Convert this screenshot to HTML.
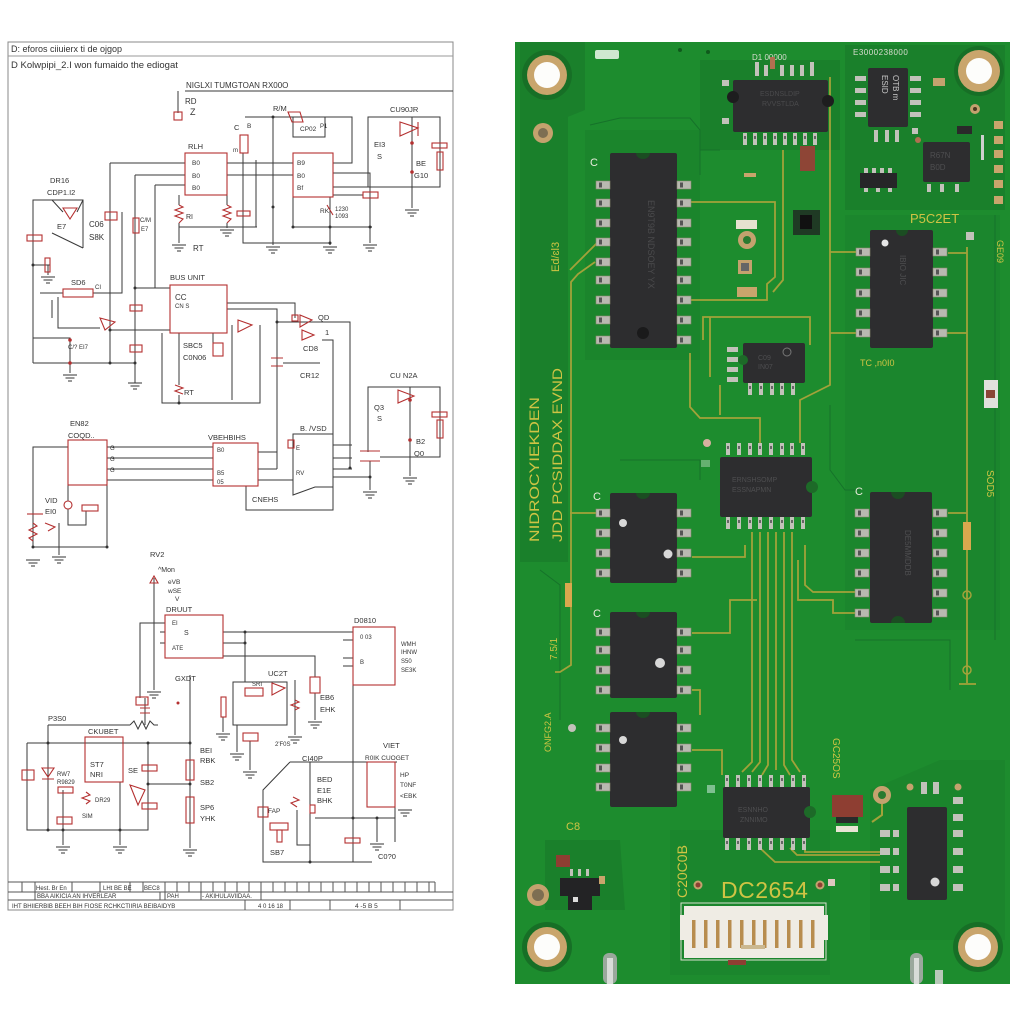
<!DOCTYPE html>
<html><head><meta charset="utf-8">
<style>
html,body{margin:0;padding:0;background:#fff;width:1024px;height:1024px;overflow:hidden}
svg{display:block}
</style></head>
<body>
<svg width="1024" height="1024" viewBox="0 0 1024 1024" xmlns="http://www.w3.org/2000/svg" font-family="Liberation Sans, sans-serif">
<defs>
<g id="gnd" stroke="#333" stroke-width="1"><line x1="-7" y1="0" x2="7" y2="0"/><line x1="-4.5" y1="3" x2="4.5" y2="3"/><line x1="-2" y1="6" x2="2" y2="6"/></g>
<g id="padL"><rect x="0" y="-4" width="14" height="8" fill="#b9b9b1" stroke="#8a8a70" stroke-width="0.6"/><rect x="3" y="-2.5" width="3" height="5" fill="#555"/></g>
<g id="pinV"><rect x="-2" y="0" width="4" height="12" fill="#c2c2ba"/><rect x="-1" y="3" width="2" height="3" fill="#666"/></g>
</defs>

<rect x="0" y="0" width="1024" height="1024" fill="#fff"/>

<!-- ================= SCHEMATIC ================= -->
<g fill="none" stroke="#3a3a3a" stroke-width="1">
<rect x="8" y="42" width="445" height="868" stroke="#888"/>
<line x1="8" y1="56" x2="453" y2="56" stroke="#999"/>
<line x1="185" y1="91" x2="453" y2="91"/>
<path d="M178 91 V113"/>
<path d="M110 163 H185 M135 175 H185 M155 185 H185"/>
<path d="M110 163 V363 M135 175 V383 M155 185 V288"/>
<path d="M179 195 V205 M179 223 V243 M179 227 H257 M256 160 V227"/>
<path d="M227 195 V205 M227 223 V228"/>
<path d="M243 153 V243 H330 M273 117 V245"/>
<path d="M245 117 H352 V163 H333 M293 117 V137 H325 V117"/>
<path d="M227 163 H293 M227 175 H293 M293 163 V227 H372 M330 197 V245 M333 173 H370 V243 M333 187 H368 M333 195 H363"/>
<path d="M368 187 V117 H440 V187 Z M412 117 V208"/>
<path d="M33 363 V200 H83 V248 M52 200 L63 212 M83 200 L77 212 M52 233 L83 248 M33 265 H50 M48 265 V275"/>
<path d="M93 293 H122 V212 M40 293 H63 M52 300 V318 M58 297 V328 H100"/>
<path d="M33 338 H70 V373 M33 363 H135"/>
<path d="M135 288 H170 M110 330 H170 M227 303 H295 V318 M227 309 H277 V469 M277 322 H350 V468 M322 340 H333 V440"/>
<path d="M162 333 V403 H260 V325 M179 333 V385 M179 395 V403 M213 333 V345 M232 325 V400 M283 363 H320"/>
<path d="M368 452 V387 H440 V457 H380 M410 387 V476 M333 477 H370 M370 461 V490"/>
<path d="M107 447 H213 M107 458 H213 M107 469 H213 M107 480 H213"/>
<path d="M258 452 H277 M258 469 H277 M258 480 H293 M293 434 V495 L315 487 H333 V434 Z M333 434 V510 H246 V486"/>
<path d="M333 445 H352 M333 458 H352 M333 469 H352"/>
<path d="M68 447 H33 V547 H107 V485 M68 485 V501 M68 509 V525 H86 V511 M59 523 V555"/>
<path d="M154 578 V690 M165 623 H140 V698 M160 632 H165 M160 643 H165"/>
<path d="M223 632 H353 M223 643 H245 M245 632 V682 M223 656 H315 V677 M315 693 V720 M190 675 V848 M353 685 V862"/>
<path d="M233 682 H287 V725 H233 Z M223 717 V732 M237 725 V752 M250 741 V770 M295 680 V735"/>
<path d="M343 640 H353 M343 658 H353 M343 666 H353"/>
<path d="M48 725 H130 M130 725 L134 721 L138 729 L142 721 L146 729 L150 721 L154 725 H158"/>
<path d="M27 743 H190 M27 743 V830 H148 V743 M48 725 V830 M120 782 V845 M63 790 V845 M148 784 H190 M145 698 V725"/>
<path d="M290 762 H397 M290 762 L263 790 V862 H372 M310 762 V862 M315 818 H395 M377 818 V842 M395 807 V842 M297 810 V845 H310"/>
<path d="M8 882 H435 M8 892 H453 M8 900 H453" stroke="#555"/>
<path d="M22 882 V892 M35 882 V900 M72 882 V892 M100 882 V892 M130 882 V892 M143 882 V892 M165 882 V900 M177 882 V892 M189 882 V892 M201 882 V900 M213 882 V892 M225 882 V892 M237 882 V892 M249 882 V892 M261 882 V900 M273 882 V892 M285 882 V892 M297 882 V892 M309 882 V892 M321 882 V892 M333 882 V892 M345 882 V892 M357 882 V892 M369 882 V892 M381 882 V892 M393 882 V892 M405 882 V892 M417 882 V892 M429 882 V892 M435 882 V892 M160 892 V900 M245 900 V910 M290 900 V910 M330 900 V910 M400 900 V910" stroke="#555"/>
</g>

<g>
<use href="#gnd" x="179" y="245"/><use href="#gnd" x="227" y="230"/><use href="#gnd" x="273" y="247"/><use href="#gnd" x="330" y="247"/><use href="#gnd" x="370" y="245"/><use href="#gnd" x="412" y="210"/>
<use href="#gnd" x="48" y="277"/><use href="#gnd" x="70" y="375"/><use href="#gnd" x="135" y="383"/>
<use href="#gnd" x="410" y="478"/><use href="#gnd" x="370" y="492"/>
<use href="#gnd" x="33" y="560"/><use href="#gnd" x="59" y="557"/>
<use href="#gnd" x="154" y="692"/><use href="#gnd" x="315" y="722"/><use href="#gnd" x="190" y="850"/>
<use href="#gnd" x="223" y="734"/><use href="#gnd" x="237" y="754"/><use href="#gnd" x="250" y="772"/><use href="#gnd" x="295" y="737"/>
<use href="#gnd" x="63" y="847"/><use href="#gnd" x="120" y="847"/><use href="#gnd" x="377" y="844"/><use href="#gnd" x="405" y="810"/>
</g>

<g fill="none" stroke="#b43030" stroke-width="1.1">
<rect x="174" y="112" width="8" height="8"/>
<rect x="185" y="153" width="42" height="42"/>
<path d="M179 205 L183 207 L175 210 L183 213 L175 216 L183 219 L179 223"/>
<path d="M227 205 L231 207 L223 210 L231 213 L223 216 L231 219 L227 223"/>
<rect x="237" y="211" width="13" height="5"/>
<rect x="240" y="135" width="8" height="18"/>
<path d="M288 112 L300 112 L303 122 L292 122 Z"/>
<rect x="293" y="153" width="40" height="44"/>
<path d="M327 205 L333 215"/>
<rect x="363" y="192" width="15" height="6"/>
<path d="M400 122 L418 128 L400 136 Z M418 122 V136"/>
<rect x="432" y="143" width="15" height="5"/>
<rect x="437" y="152" width="6" height="18"/>
<path d="M63 208 L77 208 L70 219 Z"/>
<rect x="27" y="235" width="15" height="6"/>
<rect x="45" y="258" width="5" height="14"/>
<rect x="105" y="212" width="12" height="8"/>
<rect x="133" y="218" width="6" height="15"/>
<rect x="63" y="289" width="30" height="8"/>
<path d="M100 318 L115 322 L105 330 Z"/>
<rect x="130" y="305" width="12" height="6"/>
<rect x="130" y="345" width="12" height="7"/>
<rect x="170" y="285" width="57" height="48"/>
<path d="M271 358 H283 M271 366 H283"/>
<path d="M300 315 L312 320 L300 327 Z M302 330 L314 335 L302 340 Z"/>
<rect x="292" y="315" width="6" height="6"/>
<rect x="213" y="343" width="10" height="13"/>
<path d="M238 320 L252 325 L238 332 Z"/>
<path d="M175 385 L183 388 L175 391 L183 394"/>
<path d="M398 390 L414 396 L398 403 Z"/>
<rect x="432" y="412" width="15" height="5"/>
<rect x="437" y="420" width="6" height="18"/>
<path d="M360 451 H380 M360 461 H380"/>
<rect x="68" y="440" width="39" height="45"/>
<rect x="213" y="443" width="45" height="43"/>
<rect x="288" y="440" width="6" height="8"/>
<path d="M27 514 H43"/>
<path d="M33 523 L37 526 L29 530 L37 534 L29 538 L33 541"/>
<circle cx="68" cy="505" r="4"/>
<rect x="82" y="505" width="16" height="6"/>
<path d="M45 523 L55 527 L48 531"/>
<path d="M150 583 L154 576 L158 583 Z"/>
<rect x="165" y="615" width="58" height="43"/>
<rect x="136" y="697" width="12" height="8"/>
<path d="M140 708 H150 M140 713 H150"/>
<rect x="186" y="760" width="8" height="20"/>
<rect x="186" y="797" width="8" height="26"/>
<rect x="310" y="677" width="10" height="16"/>
<rect x="245" y="688" width="18" height="8"/>
<path d="M272 683 L285 688 L272 695 Z"/>
<rect x="221" y="697" width="5" height="20"/>
<rect x="243" y="733" width="15" height="8"/>
<path d="M295 700 L299 702 L291 705 L299 708 L295 710"/>
<rect x="353" y="627" width="42" height="58"/>
<rect x="85" y="737" width="38" height="45"/>
<rect x="22" y="770" width="12" height="10"/>
<path d="M42 768 L54 768 L48 777 Z M42 779 H54"/>
<rect x="58" y="787" width="15" height="6"/>
<rect x="57" y="817" width="15" height="7"/>
<path d="M86 792 L90 795 L82 798 L90 801 L86 804"/>
<rect x="142" y="765" width="15" height="6"/>
<rect x="142" y="803" width="15" height="6"/>
<path d="M130 785 L145 790 L138 805 Z"/>
<rect x="367" y="762" width="28" height="45"/>
<rect x="258" y="807" width="10" height="10"/>
<rect x="270" y="823" width="18" height="7"/>
<rect x="277" y="830" width="5" height="12"/>
<path d="M293 797 L299 800 L291 803 L297 807"/>
<rect x="310" y="805" width="5" height="8"/>
<rect x="345" y="838" width="15" height="5"/>
</g>
<g fill="#b43030">
<circle cx="412" cy="143" r="1.8"/><circle cx="412" cy="172" r="1.8"/><circle cx="410" cy="400" r="1.8"/><circle cx="410" cy="440" r="1.8"/>
<circle cx="70" cy="340" r="1.8"/><circle cx="70" cy="363" r="1.8"/><circle cx="178" cy="703" r="1.5"/>
</g>
<g fill="#333">
<circle cx="273" cy="117" r="1.5"/><circle cx="293" cy="227" r="1.5"/><circle cx="330" cy="227" r="1.5"/><circle cx="370" cy="227" r="1.5"/><circle cx="273" cy="207" r="1.5"/><circle cx="330" cy="243" r="1.5"/><circle cx="33" cy="265" r="1.5"/><circle cx="110" cy="363" r="1.5"/><circle cx="135" cy="363" r="1.5"/><circle cx="110" cy="330" r="1.5"/><circle cx="135" cy="288" r="1.5"/><circle cx="277" cy="322" r="1.5"/><circle cx="179" cy="403" r="1.5"/><circle cx="370" cy="477" r="1.5"/><circle cx="350" cy="468" r="1.5"/><circle cx="107" cy="547" r="1.5"/><circle cx="33" cy="547" r="1.5"/><circle cx="245" cy="632" r="1.5"/><circle cx="245" cy="643" r="1.5"/><circle cx="48" cy="743" r="1.5"/><circle cx="148" cy="743" r="1.5"/><circle cx="190" cy="743" r="1.5"/><circle cx="148" cy="784" r="1.5"/><circle cx="190" cy="784" r="1.5"/><circle cx="48" cy="830" r="1.5"/><circle cx="120" cy="830" r="1.5"/><circle cx="310" cy="862" r="1.5"/><circle cx="353" cy="818" r="1.5"/><circle cx="377" cy="818" r="1.5"/><circle cx="63" cy="830" r="1.5"/>
</g>

<g fill="#333" font-size="7.5">
<text x="11" y="52" font-size="9">D: eforos ciiuierx ti de ojgop</text>
<text x="11" y="68" font-size="9.5">D Kolwpipi_2.I won fumaido the ediogat</text>
<text x="186" y="88" font-size="8">NIGLXI TUMGTOAN RX00O</text>
<text x="185" y="104" font-size="8">RD</text><text x="190" y="115" font-size="9">Z</text>
<text x="188" y="149">RLH</text>
<text x="192" y="165" font-size="6.5">B0</text><text x="192" y="178" font-size="6.5">B0</text><text x="192" y="190" font-size="6.5">B0</text>
<text x="186" y="219" font-size="7">RI</text><text x="193" y="251" font-size="8">RT</text>
<text x="234" y="130">C</text><text x="247" y="128" font-size="6.5">B</text><text x="233" y="152" font-size="6">m</text>
<text x="273" y="111">R/M</text><text x="300" y="131" font-size="6.5">CP02</text><text x="320" y="128" font-size="6">P1</text>
<text x="297" y="165" font-size="6.5">B9</text><text x="297" y="178" font-size="6.5">B0</text><text x="297" y="190" font-size="6.5">Bf</text>
<text x="320" y="213" font-size="6.5">RK</text><text x="335" y="211" font-size="6">1230</text><text x="335" y="218" font-size="6">1093</text>
<text x="390" y="112">CU90JR</text><text x="374" y="147">EI3</text><text x="377" y="159">S</text><text x="416" y="166">BE</text><text x="414" y="178">G10</text>
<text x="50" y="183">DR16</text><text x="47" y="195">CDP1.I2</text><text x="57" y="229">E7</text>
<text x="89" y="227" font-size="8">C06</text><text x="89" y="240" font-size="8">S8K</text>
<text x="140" y="222" font-size="6">C/M</text><text x="141" y="231" font-size="6">E7</text>
<text x="71" y="285">SD6</text><text x="95" y="289" font-size="6">CI</text><text x="68" y="349" font-size="6">C/? EI7</text>
<text x="170" y="280">BUS UNIT</text><text x="175" y="300" font-size="8">CC</text><text x="175" y="308" font-size="6">CN S</text>
<text x="183" y="348">SBC5</text><text x="183" y="360">C0N06</text><text x="184" y="395">RT</text>
<text x="303" y="351">CD8</text><text x="318" y="320">QD</text><text x="325" y="335">1</text><text x="300" y="378">CR12</text>
<text x="390" y="378">CU N2A</text><text x="374" y="410">Q3</text><text x="377" y="421">S</text><text x="416" y="444">B2</text><text x="414" y="456">Q0</text>
<text x="70" y="426">EN82</text><text x="68" y="438">COQD..</text>
<text x="110" y="450" font-size="6">G</text><text x="110" y="461" font-size="6">G</text><text x="110" y="472" font-size="6">G</text>
<text x="208" y="440">VBEHBIHS</text><text x="217" y="452" font-size="6">B0</text><text x="217" y="475" font-size="6">B5</text><text x="217" y="484" font-size="6">05</text>
<text x="300" y="431">B. /VSD</text><text x="296" y="450" font-size="6">E</text><text x="296" y="475" font-size="6">RV</text>
<text x="252" y="502">CNEHS</text>
<text x="45" y="503">VID</text><text x="45" y="514">EI0</text>
<text x="150" y="557">RV2</text><text x="158" y="572" font-size="7">^Mon</text>
<text x="168" y="584" font-size="6.5">eVB</text><text x="168" y="593" font-size="6.5">wSE</text><text x="175" y="601" font-size="6.5">V</text>
<text x="166" y="612">DRUUT</text><text x="172" y="625" font-size="6">EI</text><text x="184" y="635" font-size="7">S</text><text x="172" y="650" font-size="6">ATE</text>
<text x="175" y="681">GXDT</text>
<text x="200" y="753">BEI</text><text x="200" y="763">RBK</text><text x="200" y="785">SB2</text><text x="200" y="810">SP6</text><text x="200" y="821">YHK</text>
<text x="268" y="676">UC2T</text><text x="252" y="686" font-size="6">SRI</text><text x="275" y="746" font-size="6">2'F0S</text>
<text x="320" y="700">EB6</text><text x="320" y="712">EHK</text>
<text x="354" y="623">D0810</text><text x="360" y="639" font-size="6">0 03</text><text x="360" y="664" font-size="6">B</text>
<text x="401" y="646" font-size="6">WMH</text><text x="401" y="654" font-size="6">IHNW</text><text x="401" y="663" font-size="6">S50</text><text x="401" y="672" font-size="6">SE3K</text>
<text x="48" y="721">P3S0</text><text x="88" y="734">CKUBET</text>
<text x="90" y="767">ST7</text><text x="90" y="777">NRI</text><text x="57" y="776" font-size="6">RW7</text><text x="57" y="784" font-size="6">R9829</text>
<text x="128" y="773">SE</text><text x="82" y="818" font-size="6">SIM</text><text x="95" y="802" font-size="6">DR29</text>
<text x="302" y="761">CI40P</text><text x="383" y="748">VIET</text><text x="365" y="760" font-size="6.5">R0IK CUOGET</text>
<text x="400" y="777" font-size="6.5">HP</text><text x="400" y="787" font-size="6.5">T0NF</text><text x="400" y="798" font-size="6.5">&lt;EBK</text>
<text x="268" y="813" font-size="6.5">FAP</text><text x="270" y="855">SB7</text>
<text x="317" y="782">BED</text><text x="317" y="793">E1E</text><text x="317" y="803">BHK</text>
<text x="378" y="859">C0?0</text>
<text x="36" y="890" font-size="6">Hest. Br En</text><text x="103" y="890" font-size="6">LHt BE BE</text><text x="144" y="890" font-size="6">BEC8</text>
<text x="37" y="898" font-size="6">BBA  AIKICIA AN IHVERLEAR</text><text x="167" y="898" font-size="6">PAH</text><text x="202" y="898" font-size="6">- AKIHULAVIIDAA.</text>
<text x="12" y="908" font-size="6">IHT BHIIERBIB BEEH BIH FIOSE RCHKCTIIRIA BEIBAIDYB</text>
<text x="258" y="908" font-size="6">4 0 16 18</text><text x="355" y="908" font-size="6.5">4 -5  B  5</text>
</g>

<!-- ================= PCB ================= -->
<rect x="515" y="42" width="495" height="942" fill="#1d8c2e"/>
<g fill="#1a802b">
<rect x="520" y="42" width="48" height="520"/>
<path d="M520 42 H585 V110 L560 120 H520 Z"/>
<path d="M700 60 H840 V150 H700 Z"/>
<path d="M845 45 H1005 V210 H845 Z"/>
<path d="M585 130 H700 V360 H585 Z" opacity="0.6"/>
<path d="M845 215 H1000 V630 H845 Z" opacity="0.5"/>
<path d="M940 760 H1005 V940 H870 V790 Z" opacity="0.6"/>
<path d="M545 840 H620 L625 910 H545 Z"/>
<path d="M670 830 H830 V975 H670 Z" opacity="0.5"/>
</g>
<g fill="none" stroke="#16722a" stroke-width="1">
<path d="M590 125 L620 118 H690 L700 130 V175 M700 150 H720"/>
<path d="M830 405 V470 L845 490 H860 M995 215 V640 M540 570 L560 585 V720"/>
<path d="M620 460 H700 V480 M855 640 H950 V690"/>
</g>

<g>
<circle cx="547" cy="75" r="25" fill="#176f26"/><circle cx="547" cy="75" r="20" fill="#c9a56c"/><circle cx="547" cy="75" r="13" fill="#fdfdfb"/>
<circle cx="979" cy="71" r="25" fill="#176f26"/><circle cx="979" cy="71" r="21" fill="#c9a56c"/><circle cx="979" cy="71" r="13" fill="#fdfdfb"/>
<circle cx="547" cy="947" r="25" fill="#176f26"/><circle cx="547" cy="947" r="20" fill="#c9a56c"/><circle cx="547" cy="947" r="13" fill="#fdfdfb"/>
<circle cx="978" cy="947" r="25" fill="#176f26"/><circle cx="978" cy="947" r="20" fill="#c9a56c"/><circle cx="978" cy="947" r="13" fill="#fdfdfb"/>
<circle cx="543" cy="133" r="10" fill="#c4a26e"/><circle cx="543" cy="133" r="5" fill="#7d6e52"/>
<circle cx="538" cy="895" r="11" fill="#c4a26e"/><circle cx="538" cy="895" r="6" fill="#7d6e52"/>
<rect x="595" y="50" width="24" height="9" rx="2" fill="#cfe8d0"/>
<circle cx="680" cy="50" r="2" fill="#0f5a1c"/><circle cx="708" cy="52" r="2" fill="#0f5a1c"/>
<circle cx="975" cy="109" r="5" fill="#c4a26e"/><circle cx="975" cy="109" r="2" fill="#4a3a20"/>
</g>

<g fill="none" stroke="#a2a23a" stroke-width="1.8">
<path d="M595 262 L578 274 L571 282 V665 L560 672 H555"/>
<path d="M690 202 H775 V277 L767 284 V300 H690"/>
<path d="M783 150 V280 L773 292"/>
<path d="M830 77 V385 L800 400 V443"/>
<path d="M830 252 H860 M830 333 H860"/>
<path d="M703 340 V317 H810 V345 M710 317 V377"/>
<path d="M690 353 V407 L700 418 H760 V443 M720 385 V415"/>
<path d="M967 247 V683 M959 684 H976"/>
<path d="M948 513 H967 M948 253 H967 M933 333 H967"/>
<path d="M752 532 V762 L742 772 M760 532 V762 L752 772 M768 532 V765 L762 775 M776 532 V770 M784 532 V765 L790 775 M792 532 V760 L800 772"/>
<path d="M692 557 H745 V545 M757 600 H730 V633 H692 M692 750 H722 V775 M692 690 H700 V715"/>
<path d="M805 545 V585 L813 592 H855 M798 560 V600 H833 V613 H855"/>
<path d="M760 848 L775 862 H880 M790 848 L797 855 H880 M805 848 V852 H880"/>
<path d="M570 513 H610 M570 270 L598 242"/>
</g>

<g fill="#cfc444">
<text transform="translate(539,542) rotate(-90)" font-size="14" textLength="145" lengthAdjust="spacingAndGlyphs">NIDROCYIEKDEN</text>
<text transform="translate(562,542) rotate(-90)" font-size="14" textLength="174" lengthAdjust="spacingAndGlyphs">JDD PCSIDDAX EVND</text>
<text transform="translate(559,272) rotate(-90)" font-size="11">Ed/ɛl3</text>
<text transform="translate(557,660) rotate(-90)" font-size="10">7.5/1</text>
<text transform="translate(551,752) rotate(-90)" font-size="9">ONFG2.A</text>
<text transform="translate(833,738) rotate(90)" font-size="10">GC25OS</text>
<text transform="translate(987,470) rotate(90)" font-size="10">SOD5</text>
<text transform="translate(997,240) rotate(90)" font-size="9">GE09</text>
<text x="910" y="223" font-size="13">P5C2ET</text>
<text x="860" y="366" font-size="9">TC ,n0I0</text>
<text x="566" y="830" font-size="11">C8</text>
<text transform="translate(687,898) rotate(-90)" font-size="14">C20C0B</text>
<text x="721" y="898" font-size="23" letter-spacing="0.5">DC2654</text>
</g>
<g fill="#e8eadc" font-size="11">
<text x="590" y="166">C</text><text x="593" y="500">C</text><text x="855" y="495">C</text><text x="593" y="617">C</text>
</g>
<text x="853" y="55" font-size="8" fill="#d8dccf" letter-spacing="0.5">E3000238000</text>
<text x="752" y="60" font-size="8" fill="#d8dccf">D1 00000</text>

<g>
<rect x="610" y="153" width="67" height="195" rx="2" fill="#2d2d2f"/>
<path d="M636 153 A7 6 0 0 0 650 153 Z" fill="#1b4d22"/>
<circle cx="643" cy="333" r="6" fill="#1a1a1b"/>
<text transform="translate(648,200) rotate(90)" font-size="9" fill="#4a4a4c">EN9T9B  NDSOEY  YX</text>
<use href="#padL" x="596" y="185"/><use href="#padL" x="596" y="203"/><use href="#padL" x="596" y="223"/><use href="#padL" x="596" y="242"/><use href="#padL" x="596" y="262"/><use href="#padL" x="596" y="280"/><use href="#padL" x="596" y="300"/><use href="#padL" x="596" y="320"/><use href="#padL" x="596" y="340"/>
<use href="#padL" x="677" y="185"/><use href="#padL" x="677" y="203"/><use href="#padL" x="677" y="223"/><use href="#padL" x="677" y="242"/><use href="#padL" x="677" y="262"/><use href="#padL" x="677" y="280"/><use href="#padL" x="677" y="300"/><use href="#padL" x="677" y="320"/><use href="#padL" x="677" y="340"/>
</g>

<g>
<rect x="733" y="80" width="95" height="52" rx="2" fill="#2d2d2f"/>
<circle cx="733" cy="97" r="6" fill="#1d1d1e"/><circle cx="828" cy="101" r="6" fill="#1d1d1e"/>
<text x="760" y="96" font-size="7" fill="#4a4a4c">ESDNSLDIP</text><text x="762" y="106" font-size="7" fill="#4a4a4c">RVVSTLDA</text>
<use href="#pinV" x="745" y="133"/><use href="#pinV" x="755" y="133"/><use href="#pinV" x="765" y="133"/><use href="#pinV" x="775" y="133"/><use href="#pinV" x="785" y="133"/><use href="#pinV" x="795" y="133"/><use href="#pinV" x="805" y="133"/><use href="#pinV" x="815" y="133"/>
<g fill="#c2c2ba"><rect x="755" y="62" width="4" height="14"/><rect x="764" y="65" width="4" height="11"/><rect x="780" y="65" width="4" height="11"/><rect x="790" y="65" width="4" height="11"/><rect x="800" y="65" width="4" height="11"/><rect x="810" y="62" width="4" height="14"/><rect x="722" y="80" width="7" height="6"/><rect x="722" y="118" width="7" height="6"/></g>
<rect x="770" y="57" width="5" height="12" fill="#b07050"/>
</g>

<g>
<rect x="868" y="68" width="40" height="59" rx="2" fill="#2d2d2f"/>
<text transform="translate(882,75) rotate(90)" font-size="8" fill="#c8c8c8">ESID</text>
<text transform="translate(893,75) rotate(90)" font-size="8" fill="#c8c8c8">OTB  m</text>
<g fill="#c2c2ba"><rect x="855" y="76" width="11" height="5"/><rect x="855" y="88" width="11" height="5"/><rect x="855" y="100" width="11" height="5"/><rect x="855" y="112" width="11" height="5"/>
<rect x="910" y="76" width="11" height="5"/><rect x="910" y="88" width="11" height="5"/><rect x="910" y="100" width="11" height="5"/><rect x="910" y="112" width="11" height="5"/>
<rect x="874" y="130" width="4" height="12"/><rect x="885" y="130" width="4" height="12"/><rect x="895" y="130" width="4" height="12"/></g>
<rect x="933" y="78" width="12" height="8" fill="#c4a26e"/>
<rect x="923" y="142" width="47" height="40" rx="2" fill="#2d2d2f"/>
<text x="930" y="158" font-size="8" fill="#4e4e50">R67N</text><text x="930" y="170" font-size="8" fill="#4e4e50">B0D</text>
<g fill="#c2c2ba"><rect x="927" y="184" width="4" height="8"/><rect x="940" y="184" width="4" height="8"/><rect x="955" y="184" width="4" height="8"/><rect x="912" y="128" width="6" height="6"/></g>
<rect x="860" y="173" width="37" height="15" fill="#262628"/>
<g fill="#c2c2ba"><rect x="864" y="168" width="4" height="5"/><rect x="872" y="168" width="4" height="5"/><rect x="880" y="168" width="4" height="5"/><rect x="888" y="168" width="4" height="5"/><rect x="864" y="188" width="4" height="4"/><rect x="876" y="188" width="4" height="4"/><rect x="888" y="188" width="4" height="4"/></g>
<rect x="957" y="126" width="15" height="8" fill="#2a2a2a"/>
<rect x="981" y="135" width="3" height="25" fill="#cfcfcf"/>
<g fill="#c9a56c"><rect x="994" y="121" width="9" height="8"/><rect x="994" y="136" width="9" height="8"/><rect x="994" y="150" width="9" height="8"/><rect x="994" y="165" width="9" height="8"/><rect x="994" y="180" width="9" height="8"/><rect x="994" y="196" width="9" height="8"/></g>
<circle cx="918" cy="140" r="3" fill="#b07050"/>
</g>

<g>
<rect x="800" y="146" width="15" height="25" fill="#8e4536"/>
<rect x="793" y="210" width="27" height="25" fill="#1f3a24"/><rect x="800" y="215" width="12" height="14" fill="#111"/>
<circle cx="747" cy="240" r="9" fill="#c4a26e"/><circle cx="747" cy="240" r="4" fill="#2a7a30"/>
<rect x="736" y="220" width="21" height="9" fill="#e6e2cf"/>
<rect x="738" y="260" width="14" height="14" fill="#c4a26e"/><rect x="741" y="263" width="8" height="8" fill="#666"/>
<rect x="737" y="287" width="20" height="10" fill="#c9a56c"/>
<rect x="744" y="173" width="12" height="4" fill="#c9a56c"/>
</g>

<g>
<rect x="870" y="230" width="63" height="118" rx="2" fill="#2d2d2f"/>
<path d="M896 230 A6 6 0 0 0 908 230 Z" fill="#1b4d22"/>
<circle cx="885" cy="243" r="3.5" fill="#e6e6e6"/>
<text transform="translate(900,255) rotate(90)" font-size="8" fill="#4e4e50">IBIO JIC</text>
<use href="#padL" x="856" y="252"/><use href="#padL" x="856" y="272"/><use href="#padL" x="856" y="293"/><use href="#padL" x="856" y="313"/><use href="#padL" x="856" y="333"/>
<use href="#padL" x="933" y="252"/><use href="#padL" x="933" y="272"/><use href="#padL" x="933" y="293"/><use href="#padL" x="933" y="313"/><use href="#padL" x="933" y="333"/>
<rect x="966" y="232" width="8" height="8" fill="#c2c2ba"/>
</g>

<g>
<rect x="743" y="343" width="62" height="40" rx="2" fill="#2d2d2f"/>
<circle cx="743" cy="360" r="5" fill="#1d6a28"/>
<circle cx="787" cy="352" r="4" fill="none" stroke="#777" stroke-width="1"/>
<text x="758" y="360" font-size="7" fill="#4e4e50">C09</text><text x="758" y="369" font-size="7" fill="#4e4e50">IN07</text>
<use href="#pinV" x="750" y="383"/><use href="#pinV" x="761" y="383"/><use href="#pinV" x="772" y="383"/><use href="#pinV" x="782" y="383"/><use href="#pinV" x="793" y="383"/>
<g fill="#c2c2ba"><rect x="727" y="347" width="11" height="5"/><rect x="727" y="357" width="11" height="5"/><rect x="727" y="367" width="11" height="5"/><rect x="727" y="377" width="11" height="5"/></g>
</g>

<g>
<rect x="720" y="457" width="92" height="60" rx="2" fill="#2d2d2f"/>
<circle cx="812" cy="487" r="6" fill="#1d6a28"/>
<text x="732" y="482" font-size="7" fill="#4e4e50">ERNSHSOMP</text><text x="732" y="492" font-size="7" fill="#4e4e50">ESSNAPMN</text>
<use href="#pinV" x="728" y="443"/><use href="#pinV" x="739" y="443"/><use href="#pinV" x="750" y="443"/><use href="#pinV" x="760" y="443"/><use href="#pinV" x="771" y="443"/><use href="#pinV" x="782" y="443"/><use href="#pinV" x="792" y="443"/><use href="#pinV" x="803" y="443"/>
<use href="#pinV" x="728" y="517"/><use href="#pinV" x="739" y="517"/><use href="#pinV" x="750" y="517"/><use href="#pinV" x="760" y="517"/><use href="#pinV" x="771" y="517"/><use href="#pinV" x="782" y="517"/><use href="#pinV" x="792" y="517"/><use href="#pinV" x="803" y="517"/>
<circle cx="707" cy="443" r="4" fill="#d7b0a0"/><rect x="701" y="460" width="9" height="7" fill="#66b070"/>
</g>

<g>
<rect x="610" y="493" width="67" height="90" rx="2" fill="#2d2d2f"/>
<circle cx="623" cy="523" r="4" fill="#d8d8d8"/><circle cx="668" cy="554" r="4.5" fill="#d8d8d8"/>
<path d="M636 493 A7 6 0 0 0 650 493 Z" fill="#1b4d22"/>
<use href="#padL" x="596" y="513"/><use href="#padL" x="596" y="533"/><use href="#padL" x="596" y="553"/><use href="#padL" x="596" y="573"/>
<use href="#padL" x="677" y="513"/><use href="#padL" x="677" y="533"/><use href="#padL" x="677" y="553"/><use href="#padL" x="677" y="573"/>
<rect x="610" y="612" width="67" height="86" rx="2" fill="#2d2d2f"/>
<path d="M636 612 A7 6 0 0 0 650 612 Z" fill="#1b4d22"/>
<circle cx="660" cy="663" r="5" fill="#d8d8d8"/>
<use href="#padL" x="596" y="632"/><use href="#padL" x="596" y="650"/><use href="#padL" x="596" y="670"/><use href="#padL" x="596" y="690"/>
<use href="#padL" x="677" y="632"/><use href="#padL" x="677" y="650"/><use href="#padL" x="677" y="670"/><use href="#padL" x="677" y="690"/>
<rect x="610" y="712" width="67" height="95" rx="2" fill="#2d2d2f"/>
<path d="M636 712 A7 6 0 0 0 650 712 Z" fill="#1b4d22"/>
<circle cx="623" cy="740" r="4" fill="#d8d8d8"/>
<use href="#padL" x="596" y="728"/><use href="#padL" x="596" y="748"/><use href="#padL" x="596" y="768"/><use href="#padL" x="596" y="787"/>
<use href="#padL" x="677" y="728"/><use href="#padL" x="677" y="748"/><use href="#padL" x="677" y="768"/><use href="#padL" x="677" y="787"/>
<circle cx="572" cy="728" r="4" fill="#c2c2ba"/>
</g>

<g>
<rect x="870" y="492" width="62" height="131" rx="2" fill="#2d2d2f"/>
<path d="M891 492 A7 7 0 0 0 905 492 Z" fill="#1b4d22"/><path d="M891 623 A7 7 0 0 1 905 623 Z" fill="#1b4d22"/>
<text transform="translate(905,530) rotate(90)" font-size="8" fill="#4e4e50">DE5MMDDB</text>
<use href="#padL" x="855" y="513"/><use href="#padL" x="855" y="533"/><use href="#padL" x="855" y="553"/><use href="#padL" x="855" y="573"/><use href="#padL" x="855" y="593"/><use href="#padL" x="855" y="613"/>
<use href="#padL" x="933" y="513"/><use href="#padL" x="933" y="533"/><use href="#padL" x="933" y="553"/><use href="#padL" x="933" y="573"/><use href="#padL" x="933" y="593"/><use href="#padL" x="933" y="613"/>
<rect x="963" y="522" width="8" height="28" fill="#d9a84e"/>
<rect x="565" y="583" width="7" height="24" fill="#d9a84e"/>
<circle cx="967" cy="595" r="4" fill="none" stroke="#a2a23a" stroke-width="1.5"/><circle cx="967" cy="670" r="4" fill="none" stroke="#a2a23a" stroke-width="1.5"/>
<rect x="984" y="380" width="14" height="28" fill="#e0e0dc"/><rect x="986" y="390" width="9" height="8" fill="#8a4536"/>
</g>

<g>
<rect x="723" y="787" width="87" height="51" rx="2" fill="#2d2d2f"/>
<circle cx="810" cy="812" r="6" fill="#1d6a28"/>
<text x="738" y="812" font-size="7" fill="#4e4e50">ESNNHO</text><text x="740" y="822" font-size="7" fill="#4e4e50">ZNNIMO</text>
<use href="#pinV" x="727" y="775"/><use href="#pinV" x="738" y="775"/><use href="#pinV" x="749" y="775"/><use href="#pinV" x="760" y="775"/><use href="#pinV" x="771" y="775"/><use href="#pinV" x="782" y="775"/><use href="#pinV" x="793" y="775"/><use href="#pinV" x="804" y="775"/>
<use href="#pinV" x="727" y="838"/><use href="#pinV" x="738" y="838"/><use href="#pinV" x="749" y="838"/><use href="#pinV" x="760" y="838"/><use href="#pinV" x="771" y="838"/><use href="#pinV" x="782" y="838"/><use href="#pinV" x="793" y="838"/><use href="#pinV" x="804" y="838"/>
<rect x="707" y="785" width="8" height="8" fill="#7fc090"/>
</g>

<g>
<rect x="832" y="795" width="31" height="22" fill="#8e3e32"/>
<rect x="836" y="817" width="22" height="6" fill="#2a2a2a"/>
<rect x="836" y="826" width="22" height="6" fill="#e8e4d4"/>
<circle cx="882" cy="795" r="9" fill="#c4a26e"/><circle cx="882" cy="795" r="4" fill="#2a7a30"/>
<path d="M882 804 V815 L872 822" stroke="#a2a23a" stroke-width="2" fill="none"/>
<rect x="907" y="807" width="40" height="93" rx="2" fill="#2d2d2f"/>
<circle cx="935" cy="882" r="4.5" fill="#d8d8d8"/>
<g fill="#c2c2ba"><rect x="953" y="797" width="10" height="7"/><rect x="953" y="814" width="10" height="7"/><rect x="953" y="830" width="10" height="7"/><rect x="953" y="848" width="10" height="7"/><rect x="953" y="866" width="10" height="7"/><rect x="953" y="884" width="10" height="7"/>
<rect x="880" y="830" width="10" height="7"/><rect x="880" y="848" width="10" height="7"/><rect x="880" y="866" width="10" height="7"/><rect x="880" y="884" width="10" height="7"/>
<rect x="893" y="830" width="6" height="7"/><rect x="893" y="848" width="6" height="7"/><rect x="893" y="866" width="6" height="7"/><rect x="893" y="884" width="6" height="7"/>
<rect x="921" y="782" width="6" height="12"/><rect x="933" y="782" width="6" height="12"/></g>
<circle cx="910" cy="787" r="3.5" fill="#c4a26e"/><circle cx="958" cy="787" r="3.5" fill="#c4a26e"/>
</g>

<g>
<rect x="560" y="878" width="40" height="18" fill="#232325"/>
<rect x="568" y="896" width="24" height="14" fill="#232325"/>
<rect x="573" y="897" width="5" height="5" fill="#ddd"/>
<rect x="599" y="876" width="6" height="8" fill="#c9a56c"/>
<rect x="556" y="855" width="14" height="12" fill="#8e3e32"/>
<g fill="#c2c2ba"><rect x="570" y="869" width="3" height="7"/><rect x="578" y="869" width="3" height="7"/><rect x="586" y="869" width="3" height="7"/></g>
</g>

<g>
<circle cx="698" cy="885" r="4.5" fill="#c4a26e"/><circle cx="698" cy="885" r="2.5" fill="#8e3e32"/>
<circle cx="820" cy="885" r="4.5" fill="#c4a26e"/><circle cx="820" cy="885" r="2.5" fill="#8e3e32"/>
<rect x="828" y="879" width="7" height="7" fill="#e0c8c0"/>
<rect x="681" y="903" width="145" height="57" fill="none" stroke="#d9e0cf" stroke-width="1"/>
<rect x="684" y="906" width="140" height="52" fill="#efece4"/>
<rect x="680" y="915" width="6" height="25" fill="#efece4"/><rect x="822" y="915" width="6" height="25" fill="#efece4"/>
<g fill="#b88d4e">
<rect x="692" y="920" width="3.5" height="28"/><rect x="704" y="920" width="3.5" height="28"/><rect x="716" y="920" width="3.5" height="28"/><rect x="728" y="920" width="3.5" height="28"/><rect x="740" y="920" width="3.5" height="28"/><rect x="752" y="920" width="3.5" height="28"/><rect x="763" y="920" width="3.5" height="28"/><rect x="775" y="920" width="3.5" height="28"/><rect x="787" y="920" width="3.5" height="28"/><rect x="799" y="920" width="3.5" height="28"/><rect x="811" y="920" width="3.5" height="28"/>
</g>
<rect x="741" y="945" width="24" height="4" fill="#cbb890"/>
<rect x="728" y="960" width="18" height="5" fill="#8e3e32"/>
</g>

<rect x="603" y="953" width="14" height="31" rx="6" fill="#9aa89c"/><rect x="607" y="958" width="6" height="26" fill="#d8dcd8"/>
<rect x="910" y="953" width="13" height="31" rx="6" fill="#9aa89c"/><rect x="914" y="958" width="5" height="26" fill="#d8dcd8"/>
<rect x="935" y="970" width="8" height="14" fill="#b8c8b8"/>
</svg>
</body></html>
